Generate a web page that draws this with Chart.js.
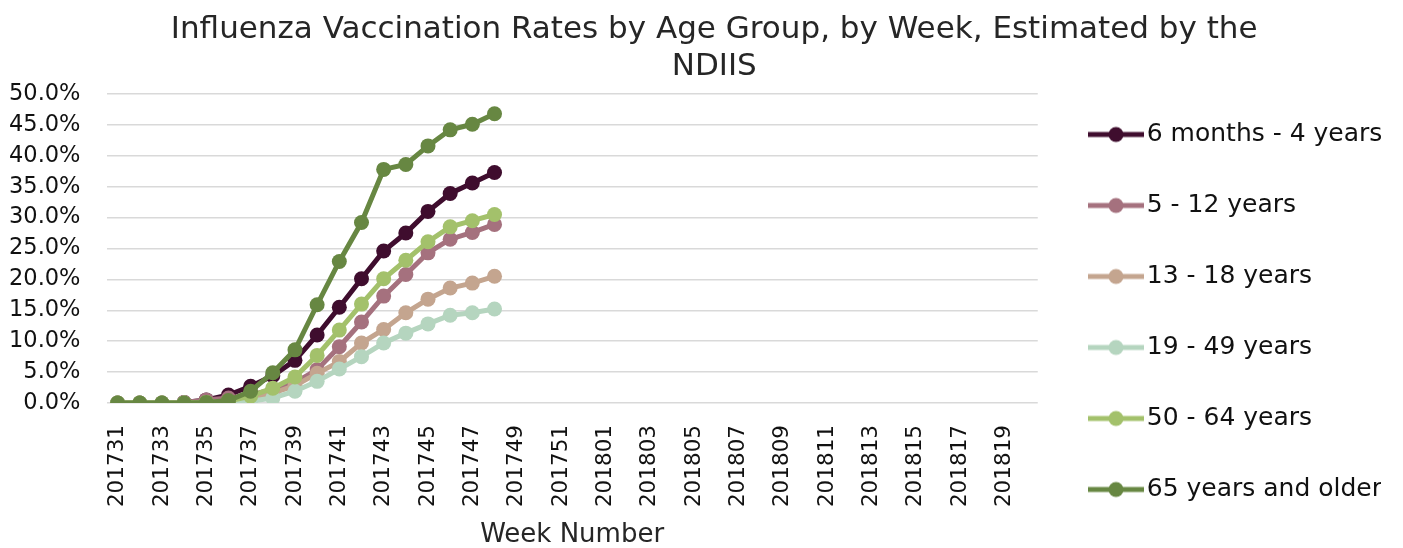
<!DOCTYPE html>
<html>
<head>
<meta charset="utf-8">
<script src="https://cdn.jsdelivr.net/npm/chart.js@4/dist/chart.umd.min.js"></script>
<style>
  html, body { margin: 0; padding: 0; background: #fff; }
  #wrap { width: 1403px; height: 548px; }
</style>
</head>
<body>
<div id="wrap"><canvas id="vacunasChart"></canvas></div>
<script>
// Semanas (2017 semana 31 a 2018 semana 20)
const semanas = [
    '201731', '201732', '201733', '201734', '201735', '201736', '201737', '201738',
    '201739', '201740', '201741', '201742', '201743', '201744', '201745', '201746',
    '201747', '201748', '201749', '201750', '201751', '201752',
    '201801', '201802', '201803', '201804', '201805', '201806', '201807', '201808',
    '201809', '201810', '201811', '201812', '201813', '201814', '201815', '201816',
    '201817', '201818', '201819', '201820'
];

const grupos = ['6 months - 4 years', '5 - 12 years', '13 - 18 years', '19 - 49 years', '50 - 64 years', '65 years and older'];
const colores = ['#3F0D2E', '#A5717E', '#C4A58F', '#B5D5BF', '#A3C16B', '#678742'];

// Porcentajes semanales (semanas 201731-201748)
const meses6a4 = [0.0, 0.0, 0.0, 0.1, 0.5, 1.3, 2.7, 4.4, 6.9, 11.0, 15.5, 20.1, 24.6, 27.5, 31.0, 33.9, 35.6, 37.3];
const anos5a12 = [0.0, 0.0, 0.0, 0.1, 0.5, 0.8, 1.3, 2.2, 3.3, 5.4, 9.1, 13.1, 17.3, 20.8, 24.3, 26.5, 27.6, 28.9];
const anos13a18 = [0.0, 0.0, 0.0, 0.0, 0.1, 0.3, 0.8, 1.6, 2.8, 4.8, 6.7, 9.7, 11.9, 14.6, 16.8, 18.6, 19.4, 20.5];
const anos19a49 = [0.0, 0.0, 0.0, 0.0, 0.0, 0.1, 0.3, 0.8, 1.9, 3.5, 5.5, 7.5, 9.7, 11.3, 12.8, 14.2, 14.6, 15.2];
const anos50a64 = [0.0, 0.0, 0.0, 0.0, 0.1, 0.3, 1.1, 2.4, 4.2, 7.7, 11.8, 16.0, 20.1, 23.1, 26.1, 28.5, 29.5, 30.5];
const anos65mas = [0.0, 0.0, 0.0, 0.0, 0.1, 0.4, 1.9, 4.9, 8.6, 15.9, 22.9, 29.2, 37.8, 38.6, 41.6, 44.2, 45.1, 46.8];

const series = [meses6a4, anos5a12, anos13a18, anos19a49, anos50a64, anos65mas];
const ticksY = [0, 5, 10, 15, 20, 25, 30, 35, 40, 45, 50];

const fuente = "'DejaVu Sans', sans-serif";

// Icono de la leyenda: linea con punto (desplazado a la derecha dentro del lienzo)
function iconoLeyenda(color) {
    const c = document.createElement('canvas');
    c.width = 70;
    c.height = 18;
    const g = c.getContext('2d');
    g.strokeStyle = color;
    g.lineWidth = 5;
    g.beginPath();
    g.moveTo(14, 9);
    g.lineTo(70, 9);
    g.stroke();
    g.fillStyle = color;
    g.beginPath();
    g.arc(42, 9, 7.5, 0, Math.PI * 2);
    g.fill();
    return c;
}
const iconos = colores.map(iconoLeyenda);

document.addEventListener('DOMContentLoaded', function() {
    const ctx = document.getElementById('vacunasChart').getContext('2d');
    new Chart(ctx, {
        type: 'line',
        data: {
            labels: semanas,
            datasets: grupos.map(function(nombre, i) {
                return {
                    label: nombre,
                    data: series[i],
                    borderColor: colores[i],
                    backgroundColor: colores[i],
                    borderWidth: 5,
                    pointRadius: 7.5,
                    pointHoverRadius: 7.5,
                    pointBorderWidth: 0,
                    tension: 0,
                    order: grupos.length - i // la última serie queda encima
                };
            })
        },
        options: {
            responsive: true,
            maintainAspectRatio: false,
            animation: false,
            layout: { padding: { left: 8, right: 22, top: 6, bottom: 0 } },
            plugins: {
                title: {
                    display: true,
                    // espacios iniciales: el título original está algo desplazado a la derecha
                    text: ['    Influenza Vaccination Rates by Age Group, by Week, Estimated by the', '    NDIIS'],
                    color: '#262626',
                    font: { family: fuente, size: 31, weight: 'normal', lineHeight: 1.2 },
                    padding: { top: 5, bottom: 8.6 }
                },
                legend: {
                    position: 'right',
                    align: 'end',
                    labels: {
                        color: '#111',
                        font: { family: fuente, size: 25 },
                        usePointStyle: true,
                        pointStyleWidth: 50.5,
                        padding: 46,
                        sort: function(a, b) { return a.datasetIndex - b.datasetIndex; },
                        generateLabels: function(chart) {
                            const base = Chart.defaults.plugins.legend.labels.generateLabels(chart);
                            base.forEach(function(item) {
                                item.pointStyle = iconos[item.datasetIndex];
                            });
                            return base;
                        }
                    }
                },
                tooltip: { enabled: false }
            },
            scales: {
                x: {
                    offset: true,
                    grid: { display: false, drawTicks: false },
                    border: { display: false },
                    afterFit: function(axis) { axis.height = 145; },
                    ticks: {
                        autoSkip: false,
                        maxRotation: 90,
                        minRotation: 90,
                        padding: 22,
                        color: '#111',
                        font: { family: fuente, size: 21.5 },
                        callback: function(value, index) {
                            return index % 2 === 0 ? this.getLabelForValue(value) : '';
                        }
                    },
                    title: {
                        display: true,
                        text: 'Week Number',
                        color: '#262626',
                        font: { family: fuente, size: 26, lineHeight: 1 },
                        padding: { top: 13.5, bottom: 0 }
                    }
                },
                y: {
                    min: 0,
                    max: 50,
                    afterBuildTicks: function(axis) {
                        axis.ticks = ticksY.map(function(v) { return { value: v }; });
                    },
                    afterFit: function(axis) { axis.width = 98.5; },
                    grid: { color: '#D9D9D9', lineWidth: 1.5, drawTicks: false },
                    border: { display: false },
                    ticks: {
                        autoSkip: false,
                        color: '#111',
                        padding: 26,
                        font: { family: fuente, size: 22.5 },
                        callback: function(value) {
                            return value.toFixed(1) + '%';
                        }
                    }
                }
            }
        }
    });
});
</script>
</body>
</html>
